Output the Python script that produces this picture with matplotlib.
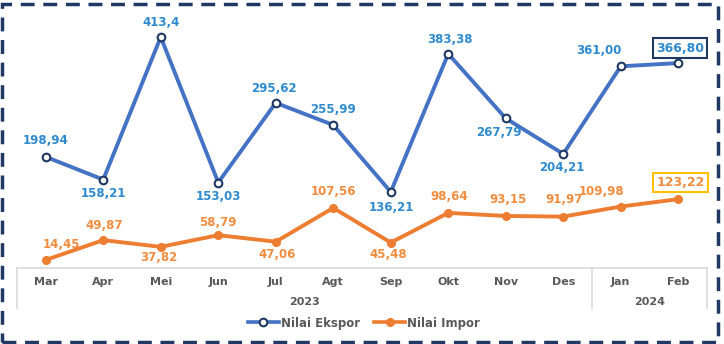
import matplotlib.pyplot as plt
from matplotlib.patches import Rectangle
from matplotlib.lines import Line2D

months = ["Mar", "Apr", "Mei", "Jun", "Jul", "Agt", "Sep", "Okt", "Nov", "Des", "Jan", "Feb"]
years = ["2023", "2024"]
ekspor = [198.94, 158.21, 413.40, 153.03, 295.62, 255.99, 136.21, 383.38, 267.79, 204.21, 361.00, 366.80]
impor = [14.45, 49.87, 37.82, 58.79, 47.06, 107.56, 45.48, 98.64, 93.15, 91.97, 109.98, 123.22]
ekspor_txt = ["198,94", "158,21", "413,4", "153,03", "295,62", "255,99", "136,21", "383,38",
              "267,79", "204,21", "361,00", "366,80"]
impor_txt = ["14,45", "49,87", "37,82", "58,79", "47,06", "107,56", "45,48", "98,64",
             "93,15", "91,97", "109,98", "123,22"]

# label offsets in pixels (dx, dy)
ekspor_off = [(0, 16), (0, -14), (0, 15), (0, -14), (-2, 14), (0, 15), (1, -16), (2, 14),
              (-7, -14), (-1, -14), (-22, 16), (2, 15)]
impor_off = [(16, 15), (1, 15), (-2, -11), (0, 13), (1, -13), (0, 16), (-2, -12), (1, 16),
             (2, 16), (1, 17), (-19, 15), (2, 17)]

BLUE = "#4472C4"
NAVY = "#1F3864"
ORANGE = "#ED7D31"
LBLUE = "#2E8BD0"
LORANGE = "#F28C3E"
GREY = "#595959"
LINE = "#D9D9D9"

plt.rcParams["font.family"] = ["DejaVu Sans"]

W, H = 724, 344
fig = plt.figure(figsize=(W / 100, H / 100), dpi=100, facecolor="white")
ax = fig.add_axes([17 / W, 1 - 268 / H, 690 / W, 257 / H])
x = list(range(len(months)))

ax.plot(x, ekspor, color=BLUE, lw=2.8, marker="o", ms=5.5, mfc="white",
        mec=NAVY, mew=1.5, zorder=3)
ax.plot(x, impor, color=ORANGE, lw=2.8, marker="o", ms=5.5, mfc=ORANGE,
        mec=ORANGE, zorder=3)

for i in x:
    last = i == len(x) - 1
    ax.annotate(ekspor_txt[i], (i, ekspor[i]), xytext=ekspor_off[i],
                textcoords="offset pixels", ha="center", va="center",
                fontsize=9 if last else 8.5, fontweight="bold", color=LBLUE,
                bbox=dict(boxstyle="square,pad=0.25", fc="white", ec=NAVY, lw=1.5) if last else None)
    ax.annotate(impor_txt[i], (i, impor[i]), xytext=impor_off[i],
                textcoords="offset pixels", ha="center", va="center",
                fontsize=9 if last else 8.5, fontweight="bold", color=LORANGE,
                bbox=dict(boxstyle="square,pad=0.25", fc="white", ec="#FFC000", lw=1.5) if last else None)

ax.set_xlim(-0.5, 11.5)
ax.set_ylim(0, 460)
ax.axis("off")

# category axis with year grouping
tr = ax.get_xaxis_transform()
ax.plot([-0.5, 11.5], [0, 0], color=LINE, lw=1.2, transform=tr, clip_on=False)
for xv in [-0.5, 9.5, 11.5]:
    ax.plot([xv, xv], [0, -40 / 257], color=LINE, lw=1.2, transform=tr, clip_on=False)
for i, m in enumerate(months):
    ax.text(i, -14 / 257, m, transform=tr, ha="center", va="center",
            fontsize=8, fontweight="bold", color=GREY)
ax.text(4.5, -34 / 257, years[0], transform=tr, ha="center", va="center",
        fontsize=8, fontweight="bold", color=GREY)
ax.text(10.5, -34 / 257, years[1], transform=tr, ha="center", va="center",
        fontsize=8, fontweight="bold", color=GREY)

handles = [
    Line2D([], [], color=BLUE, lw=2.6, marker="o", ms=5.5, mfc="white", mec=NAVY, mew=1.5),
    Line2D([], [], color=ORANGE, lw=2.6, marker="o", ms=5.5, mfc=ORANGE, mec=ORANGE),
]
leg = fig.legend(handles, ["Nilai Ekspor", "Nilai Impor"], loc="center",
                 bbox_to_anchor=(364 / W, 1 - 323 / H), ncol=2, frameon=False,
                 handlelength=2.6, handletextpad=0.2, columnspacing=1.2,
                 prop=dict(size=8.5, weight="bold"))
for t in leg.get_texts():
    t.set_color(GREY)

# dashed frame around the whole chart
fig.patches.append(Rectangle((2 / W, 2 / H), 716 / W, 338 / H, transform=fig.transFigure,
                             fill=False, ec=NAVY, lw=2.5, ls=(0, (4, 2.5))))

fig.savefig("out.png", dpi=100, facecolor="white")
